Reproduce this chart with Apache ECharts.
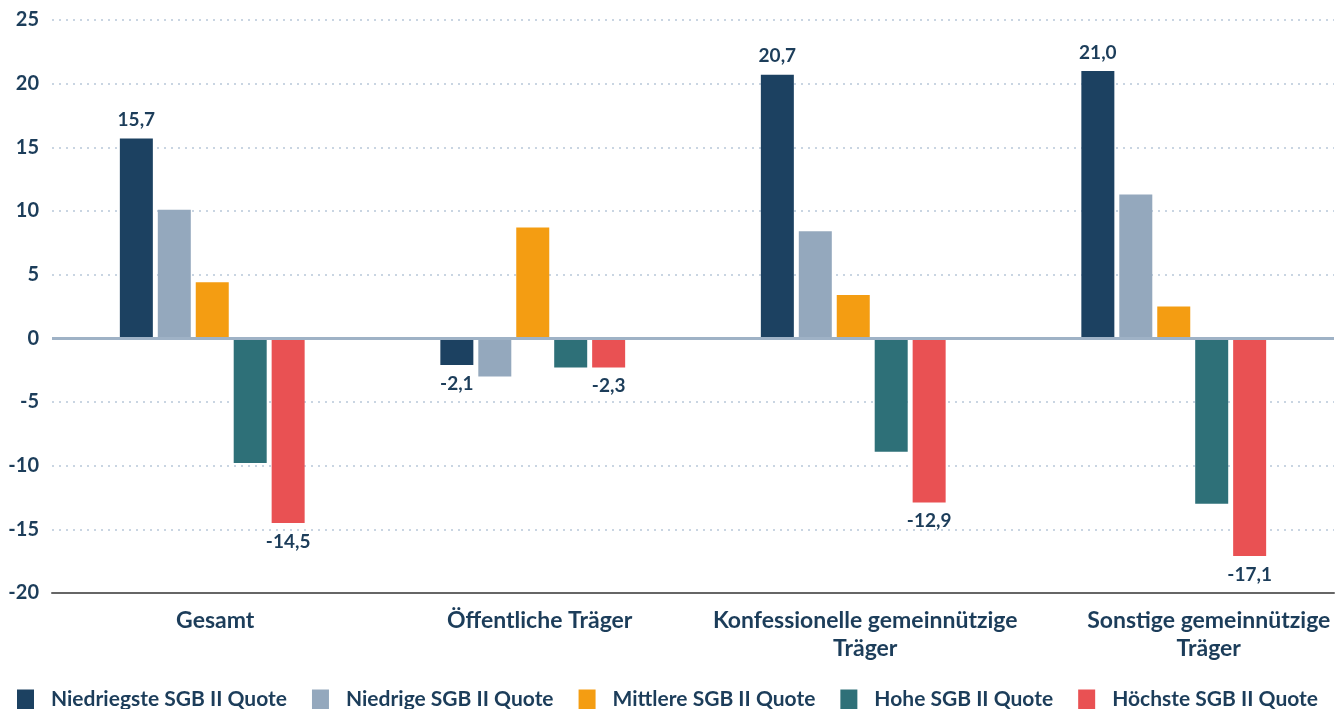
<!DOCTYPE html>
<html>
<head>
<meta charset="utf-8">
<script src="https://cdn.jsdelivr.net/npm/echarts@6/dist/echarts.min.js"></script>
<style>
  html, body { margin: 0; padding: 0; background: #fff; }
  #main { width: 1338px; height: 709px; }
</style>
</head>
<body>
<div id="main"></div>
<script>
"use strict";
// Kategorien und Werte
var categories = ['Gesamt', 'Öffentliche Träger', 'Konfessionelle gemeinnützige\nTräger', 'Sonstige gemeinnützige\nTräger'];
var seriesNames = ['Niedriegste SGB II Quote', 'Niedrige SGB II Quote', 'Mittlere SGB II Quote', 'Hohe SGB II Quote', 'Höchste SGB II Quote'];
var niedriegste = [15.7, -2.1, 20.7, 21.0];
var niedrige = [10.1, -3.0, 8.4, 11.3];
var mittlere = [4.4, 8.7, 3.4, 2.5];
var hohe = [-9.8, -2.3, -8.9, -13.0];
var hoechste = [-14.5, -2.3, -12.9, -17.1];
var colors = ['#1c4161', '#94a8bd', '#f49d12', '#2e7078', '#e95153'];

var textColor = '#1c3d5a';
var fontFam = 'Lato, "Open Sans", sans-serif';
// labels sit a bit right of the band centre in the original
var labelShift = [6, 14, 24, 70];

var myChart = echarts.init(document.getElementById('main'));

function makeSeries(idx, values, showLabel) {
    return {
        name: seriesNames[idx],
        type: 'bar',
        barWidth: 33,
        barGap: '15%',
        itemStyle: { color: colors[idx] },
        data: values.map(function (v) {
            return {
                value: v,
                label: { position: v < 0 ? 'bottom' : 'top' }
            };
        }),
        label: {
            show: showLabel,
            distance: 9,
            color: textColor,
            fontFamily: fontFam,
            fontWeight: 'bold',
            fontSize: 19,
            formatter: function (p) {
                return p.value.toFixed(1).replace('.', ',');
            }
        },
        markLine: idx === 0 ? {
            silent: true,
            symbol: 'none',
            label: { show: false },
            lineStyle: { color: '#9fb2c6', width: 3, type: 'solid' },
            data: [{ yAxis: 0 }]
        } : undefined
    };
}

var option = {
    animation: false,
    textStyle: { fontFamily: fontFam },
    grid: { left: 52, right: 4, top: 20, bottom: 116, containLabel: false },
    legend: {
        left: 12,
        top: 684,
        itemWidth: 17,
        itemHeight: 20,
        itemGap: 25,
        icon: 'rect',
        textStyle: {
            color: textColor, fontWeight: 'bold', fontSize: 21, fontFamily: fontFam,
            padding: [0, 0, 0, 12]
        },
        data: seriesNames
    },
    xAxis: {
        type: 'category',
        data: categories.map(function (c, i) {
            return { value: c, textStyle: { padding: [0, 0, 0, labelShift[i]] } };
        }),
        axisLine: { onZero: false, lineStyle: { color: '#666', width: 2 } },
        axisTick: { show: false },
        axisLabel: {
            interval: 0,
            color: textColor,
            fontWeight: 'bold',
            fontSize: 23,
            fontFamily: fontFam,
            lineHeight: 28,
            margin: 14
        }
    },
    yAxis: {
        type: 'value',
        min: -20,
        max: 25,
        interval: 5,
        axisLine: { show: false },
        axisTick: { show: false },
        axisLabel: {
            color: textColor,
            fontWeight: 'bold',
            fontSize: 20,
            fontFamily: fontFam,
            margin: 13
        },
        splitLine: {
            lineStyle: { color: '#c9d5e2', width: 2, type: [2, 5] }
        }
    },
    series: [
        makeSeries(0, niedriegste, true),
        makeSeries(1, niedrige, false),
        makeSeries(2, mittlere, false),
        makeSeries(3, hohe, false),
        makeSeries(4, hoechste, true)
    ]
};

myChart.setOption(option);
</script>
</body>
</html>
